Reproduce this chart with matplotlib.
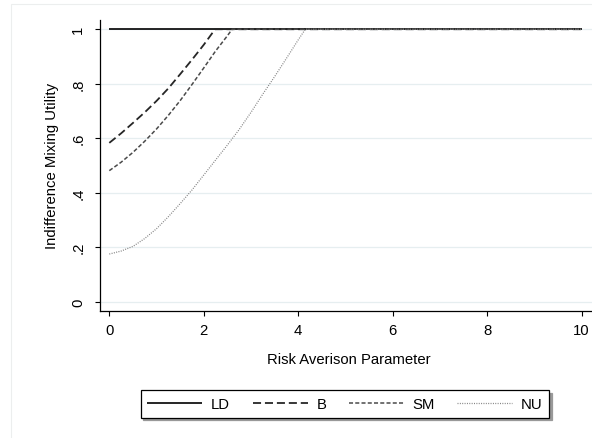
import matplotlib
matplotlib.use("Agg")
import matplotlib.pyplot as plt
from matplotlib.patches import Rectangle

plt.rcParams['font.family'] = ['Liberation Sans', 'DejaVu Sans']
plt.rcParams['lines.scale_dashes'] = False

# Data
ld_x = [0, 10]
ld_y = [1.0, 1.0]

b_x = [0, 0.25, 0.5, 0.75, 1.0, 1.25, 1.5, 1.75, 2.0, 2.24, 10]
b_y = [0.583, 0.618, 0.656, 0.695, 0.737, 0.783, 0.835, 0.888, 0.943, 1.0, 1.0]

sm_x = [0, 0.25, 0.5, 0.75, 1.0, 1.25, 1.5, 1.75, 2.0, 2.25, 2.5, 2.6, 10]
sm_y = [0.481, 0.512, 0.548, 0.589, 0.634, 0.684, 0.738, 0.797, 0.858, 0.920, 0.976, 1.0, 1.0]

nu_x = [0, 0.25, 0.5, 0.75, 1.0, 1.25, 1.5, 1.75, 2.0, 2.25, 2.5, 2.75, 3.0, 3.25, 3.5, 3.75, 4.0, 4.15, 10]
nu_y = [0.175, 0.186, 0.203, 0.232, 0.268, 0.312, 0.36, 0.41, 0.465, 0.52, 0.575, 0.632,
        0.695, 0.762, 0.826, 0.893, 0.961, 1.0, 1.0]

y_ticks = [0, 0.2, 0.4, 0.6, 0.8, 1.0]
y_ticklabels = ["0", ".2", ".4", ".6", ".8", "1"]
x_ticks = [0, 2, 4, 6, 8, 10]
x_ticklabels = ["0", "2", "4", "6", "8", "10"]

FS = 10.7
W, H = 592, 439
fig = plt.figure(figsize=(W / 100, H / 100), dpi=100)
fig.patch.set_facecolor('white')

# faint outer frame (Stata graph region)
fig.patches.append(Rectangle((10.7 / W, -0.1), 1.2, 1 - 5 / H + 0.1, transform=fig.transFigure,
                             fill=False, edgecolor='#eceeee', linewidth=0.8))

ax = fig.add_axes([100 / W, 1 - 312 / H, 1 - 100 / W + 0.01, (312 - 20.7) / H])
ax.set_facecolor('white')

ax.plot(ld_x, ld_y, color='black', lw=1.2, label='LD', solid_capstyle='butt')
ax.plot(b_x, b_y, color='#262626', lw=1.3, dashes=(5.8, 2.8), label='B')
ax.plot(sm_x, sm_y, color='#4a4a4a', lw=1.1, dashes=(2.9, 1.6), label='SM')
ax.plot(nu_x, nu_y, color='#808080', lw=0.9, dashes=(0.7, 1.0), label='NU')

ax.set_xlim(-0.197, 10.22 + 0.01 * W / 47.22)
ax.set_ylim(-0.034, 1.035)

ax.set_yticks(y_ticks)
ax.set_yticklabels(y_ticklabels, rotation=90, va='center')
ax.set_xticks(x_ticks)
ax.set_xticklabels(x_ticklabels)
ax.tick_params(axis='both', direction='out', length=3.6, width=0.8, labelsize=FS, colors='black')
ax.tick_params(axis='y', pad=7)
ax.tick_params(axis='x', pad=5)

ax.yaxis.grid(True, color='#e6eef0', lw=0.9)
ax.xaxis.grid(False)
ax.set_axisbelow(True)

for s in ['top', 'right']:
    ax.spines[s].set_visible(False)
for s in ['left', 'bottom']:
    ax.spines[s].set_linewidth(0.9)

ax.set_xlabel('Risk Averison Parameter', fontsize=FS, labelpad=11)
ax.set_ylabel('Indifference Mixing Utility', fontsize=FS, labelpad=9)

leg = fig.legend(loc='center', bbox_to_anchor=(345 / W, 1 - 405 / H), ncol=4, fontsize=FS,
                 handlelength=3.7, handletextpad=0.6, columnspacing=1.5, frameon=True,
                 fancybox=False, borderpad=0.45, borderaxespad=0,
                 shadow={'color': '0.6', 'alpha': 1.0})
leg.get_frame().set_edgecolor('black')
leg.get_frame().set_linewidth(0.9)

fig.savefig('out.png', dpi=100)
